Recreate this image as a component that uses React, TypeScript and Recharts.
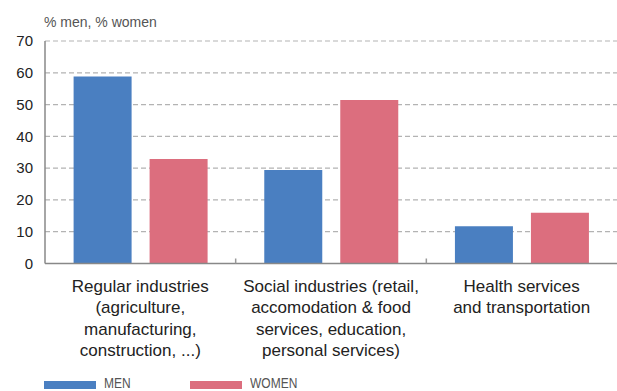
import { BarChart, Bar, XAxis, YAxis, CartesianGrid } from "recharts"

const categories = [
  "Regular industries\n(agriculture,\nmanufacturing,\nconstruction, ...)",
  "Social industries (retail,\naccomodation & food\nservices, education,\npersonal services)",
  "Health services\nand transportation",
]
const men = [58.8, 29.4, 11.7]
const women = [32.9, 51.4, 16.0]
const yTicks = [0, 10, 20, 30, 40, 50, 60, 70]

const seriesNames = ["MEN", "WOMEN"]
const BLUE = "#4a7fc1"
const PINK = "#dc6e7e"

const W = 617
const H = 391
const Y_AXIS_W = 45
const band = (W - Y_AXIS_W) / categories.length

const data = categories.map((name, i) => ({ name, men: men[i], women: women[i] }))

function CategoryTick(props: any) {
  const { x, y, payload, index } = props
  const lines: string[] = String(payload.value).split("\n")
  return (
    <g>
      {index > 0 && (
        <line x1={x - band / 2} x2={x - band / 2} y1={y - 5} y2={y} stroke="#999" strokeWidth={1.5} />
      )}
      <text
        x={x}
        y={y}
        textAnchor="middle"
        fontSize={17}
        fill="#222"
        fontFamily="'Liberation Sans', Arial, sans-serif"
      >
        {lines.map((l, i) => (
          <tspan key={i} x={x} dy={i === 0 ? 28 : 21.5}>
            {l}
          </tspan>
        ))}
      </text>
    </g>
  )
}

export default function App() {
  return (
    <div
      style={{
        position: "absolute",
        left: 0,
        top: 0,
        width: W,
        height: H,
        background: "#fff",
        fontFamily: "'Liberation Sans', Arial, sans-serif",
        overflow: "hidden",
      }}
    >
      <div style={{ position: "absolute", left: 44, top: 14.6, fontSize: 14, lineHeight: "14px", color: "#555" }}>
        % men, % women
      </div>
      <BarChart
        width={W}
        height={H}
        data={data}
        margin={{ top: 41, right: 0, bottom: 0, left: 0 }}
        barCategoryGap="15%"
        barGap={18}
      >
        <CartesianGrid vertical={false} stroke="#b3b3b3" strokeDasharray="5 3" strokeWidth={1.2} />
        <XAxis
          dataKey="name"
          height={H - 41 - 222.5}
          tick={<CategoryTick />}
          tickLine={false}
          tickSize={0}
          tickMargin={0}
          interval={0}
          axisLine={{ stroke: "#888", strokeWidth: 1.5 }}
        />
        <YAxis
          width={Y_AXIS_W}
          domain={[0, 70]}
          ticks={yTicks}
          tickLine={false}
          tickSize={0}
          tickMargin={12}
          axisLine={{ stroke: "#888", strokeWidth: 1.5 }}
          tick={{ fontSize: 15, fill: "#222", fontFamily: "'Liberation Sans', Arial, sans-serif" }}
        />
        <Bar dataKey="men" fill={BLUE} isAnimationActive={false} />
        <Bar dataKey="women" fill={PINK} isAnimationActive={false} />
      </BarChart>
      {seriesNames.map((s, i) => (
        <div key={s}>
          <div
            style={{
              position: "absolute",
              left: 44 + i * 146,
              top: 381,
              width: 52,
              height: 8,
              background: i === 0 ? BLUE : PINK,
            }}
          />
          <div
            style={{
              position: "absolute",
              left: 104 + i * 146,
              top: 375,
              fontSize: 15,
              lineHeight: "15px",
              color: "#555",
              transform: "scaleX(0.8)",
              transformOrigin: "left center",
              whiteSpace: "nowrap",
            }}
          >
            {s}
          </div>
        </div>
      ))}
    </div>
  )
}
